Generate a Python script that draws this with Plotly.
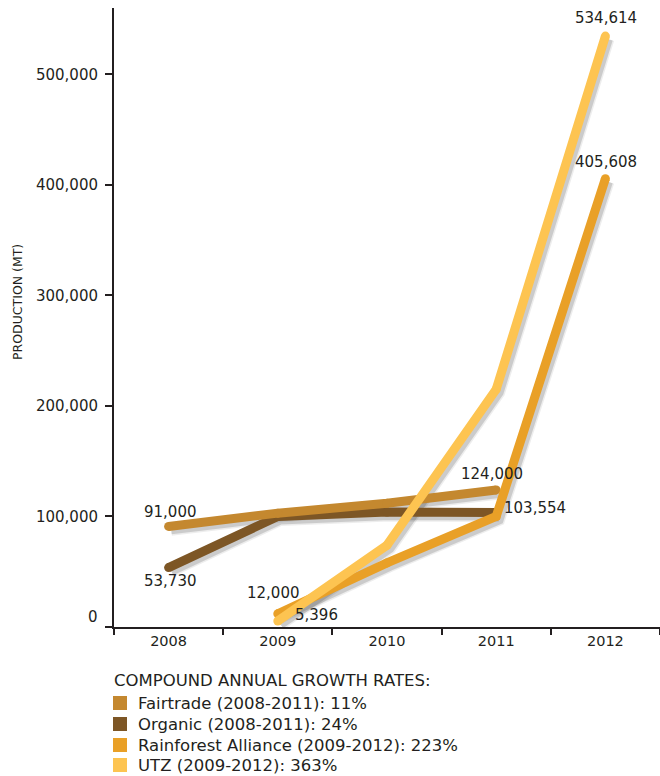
import plotly.graph_objects as go

# ---- data -------------------------------------------------------------
years = ["2008", "2009", "2010", "2011", "2012"]

fairtrade = [91000, 103000, 112000, 124000, None]
organic = [53730, 100000, 104000, 103554, None]
rainforest = [None, 12000, 58000, 100000, 405608]
utz = [None, 5396, 74000, 215000, 534614]

series_names = ["Fairtrade", "Organic", "Rainforest Alliance", "UTZ"]
series_values = [fairtrade, organic, rainforest, utz]
series_colors = ["#C4882F", "#7D5625", "#E9A027", "#FDC451"]

y_ticks = [0, 100000, 200000, 300000, 400000, 500000]
y_max = 560000

# which points carry a value label: (series index, year index)
labelled_points = [(0, 0), (1, 0), (2, 1), (3, 1), (0, 3), (1, 3), (2, 4), (3, 4)]
# label placement (xanchor, xshift px, yshift px), same order as above
label_style = [
    ("center", 2, 14),
    ("center", 2, -13),
    ("center", -4, 21),
    ("left", 15, 6),
    ("center", -4, 16),
    ("left", 6, 5),
    ("center", 1, 17),
    ("center", 1, 18),
]

# ---- geometry ---------------------------------------------------------
W, H = 660, 776
ML, MR, MT, MB = 114, 0, 8, 149
PW, PH = W - ML - MR, H - MT - MB
INK = "#231F20"
FONT = "DejaVu Sans"


def px_x(px):
    return (px - ML) / PW


def px_y(py):
    return (H - MB - py) / PH


# drop shadow offset in pixels
SH_DX, SH_DY = 2.5, 3.0
x_unit = PW / 5.0
dx = SH_DX / x_unit
dy = SH_DY * y_max / PH

fig = go.Figure()

# invisible trace that gives the visible axes their categories
fig.add_trace(go.Scatter(x=years, y=[0] * len(years), mode="markers",
                         marker=dict(opacity=0), hoverinfo="skip",
                         showlegend=False, xaxis="x", yaxis="y"))

# soft shadows beneath each line
for vals in series_values:
    for w, a in ((13, 0.07), (10, 0.14)):
        fig.add_trace(go.Scatter(x=years, y=vals, mode="lines",
                                 line=dict(color=f"rgba(0,0,0,{a})", width=w),
                                 hoverinfo="skip", showlegend=False,
                                 xaxis="x2", yaxis="y2"))

# the series lines (Organic below Fairtrade, UTZ on top)
for idx in (1, 0, 2, 3):
    fig.add_trace(go.Scatter(x=years, y=series_values[idx], mode="lines+markers",
                             name=series_names[idx],
                             line=dict(color=series_colors[idx], width=9),
                             marker=dict(color=series_colors[idx], size=9),
                             showlegend=False, xaxis="x3", yaxis="y3"))

annotations = []
for (si, yi), (xa, xs, ys) in zip(labelled_points, label_style):
    v = series_values[si][yi]
    # category axes take the serial index of the category
    annotations.append(dict(x=yi, y=v, xref="x", yref="y",
                            text=f"{v:,}", showarrow=False,
                            xanchor=xa, yanchor="middle", xshift=xs, yshift=ys,
                            font=dict(family=FONT, size=15, color=INK)))

# the zero label sits a little above its tick, clear of the x axis
annotations.append(dict(x=0, y=y_ticks[0], xref="paper", yref="y",
                        text=f"{y_ticks[0]:,}", showarrow=False,
                        xanchor="right", yanchor="middle", xshift=-14, yshift=10,
                        font=dict(family=FONT, size=15, color=INK)))

# y-axis title
annotations.append(dict(x=px_x(17), y=px_y(302), xref="paper", yref="paper",
                        text="PRODUCTION (MT)", textangle=-90, showarrow=False,
                        xanchor="center", yanchor="middle",
                        font=dict(family=FONT, size=12.5, color=INK)))

# growth-rate key below the chart
periods = ["2008-2011", "2008-2011", "2009-2012", "2009-2012"]
annotations.append(dict(x=px_x(112), y=px_y(680), xref="paper", yref="paper",
                        text="COMPOUND ANNUAL GROWTH RATES:", showarrow=False,
                        xanchor="left", yanchor="middle",
                        font=dict(family=FONT, size=16.5, color=INK)))
shapes = []
row_y = [703, 724, 745, 765]
for i, (name, vals, col, per) in enumerate(zip(series_names, series_values,
                                                 series_colors, periods)):
    pts = [v for v in vals if v is not None]
    cagr = (pts[-1] / pts[0]) ** (1.0 / (len(pts) - 1)) - 1
    annotations.append(dict(x=px_x(136), y=px_y(row_y[i]), xref="paper", yref="paper",
                            text=f"{name} ({per}): {cagr * 100:.0f}%",
                            showarrow=False, xanchor="left", yanchor="middle",
                            font=dict(family=FONT, size=16.5, color=INK)))
    shapes.append(dict(type="rect", xref="paper", yref="paper",
                       x0=px_x(113), x1=px_x(127),
                       y0=px_y(row_y[i] - 7), y1=px_y(row_y[i] + 7),
                       fillcolor=col, line=dict(width=0)))

hidden_x = dict(type="category", categoryorder="array", categoryarray=years,
                visible=False, fixedrange=True)
hidden_y = dict(visible=False, fixedrange=True)

fig.update_layout(
    width=W, height=H, autosize=False,
    margin=dict(l=ML, r=MR, t=MT, b=MB, pad=0),
    paper_bgcolor="white", plot_bgcolor="white",
    showlegend=False,
    xaxis=dict(type="category", categoryorder="array", categoryarray=years,
               range=[-0.5, 4.5], tickson="boundaries", ticks="outside",
               ticklen=6, tickwidth=2, tickcolor=INK, showline=True,
               linecolor=INK, linewidth=2, showgrid=False, zeroline=False,
               tickfont=dict(family=FONT, size=14.5, color=INK), fixedrange=True),
    yaxis=dict(range=[0, y_max], tickvals=y_ticks, tickformat=",",
               labelalias={"0": " "}, ticklabelstandoff=4,
               ticks="outside", ticklen=7, tickwidth=2, tickcolor=INK,
               showline=True, linecolor=INK, linewidth=2, showgrid=False,
               zeroline=False, tickfont=dict(family=FONT, size=15, color=INK),
               fixedrange=True),
    xaxis2=dict(hidden_x, overlaying="x", anchor="y2", range=[-0.5 - dx, 4.5 - dx]),
    yaxis2=dict(hidden_y, overlaying="y", anchor="x2", range=[dy, y_max + dy]),
    xaxis3=dict(hidden_x, overlaying="x", anchor="y3", range=[-0.5, 4.5]),
    yaxis3=dict(hidden_y, overlaying="y", anchor="x3", range=[0, y_max]),
    annotations=annotations,
    shapes=shapes,
)

fig.write_html("out.html")
